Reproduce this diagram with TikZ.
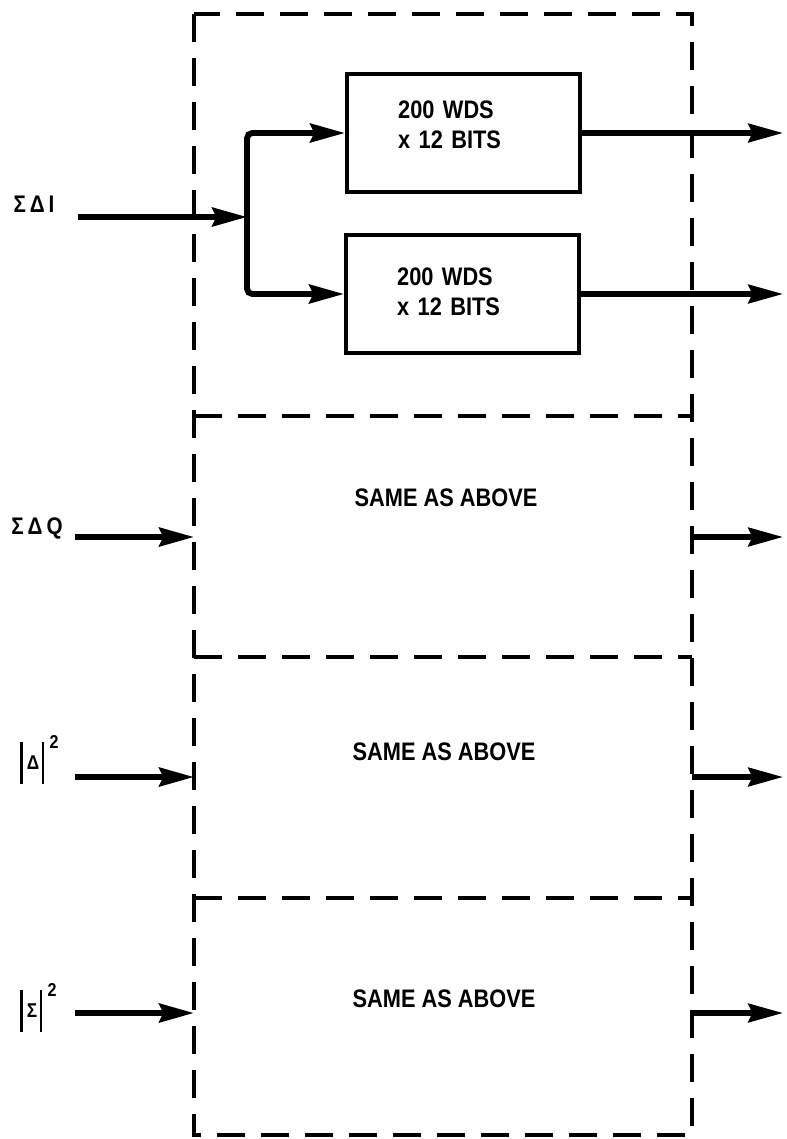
\documentclass[tikz,border=0pt]{standalone}
\usepackage{fontspec}
\setmainfont[FakeStretch=0.86]{Liberation Sans}
\usetikzlibrary{arrows.meta}
\begin{document}
\begin{tikzpicture}[x=0.75pt,y=-0.75pt,
  frame/.style={line width=2.6pt, dash pattern=on 21pt off 12pt},
  memboxst/.style={draw, line width=2.8pt, minimum width=175pt, minimum height=89pt, inner sep=0pt},
  boxtxt/.style={text width=98pt, align=left, font=\bfseries\fontsize{19}{22.5}\selectfont, inner sep=0pt},
  arr/.style={line width=4.4pt, -{Stealth[length=26pt,width=14pt,inset=3pt]}},
  outarr/.style={line width=3.8pt, -{Stealth[length=26pt,width=14pt,inset=3pt]}},
  sig/.style={font=\bfseries\fontsize{18}{20}\selectfont, inner sep=1pt},
  mag/.style={font=\bfseries\fontsize{15}{17}\selectfont, inner sep=0pt, anchor=base west},
  same/.style={font=\bfseries\fontsize{19}{22}\selectfont, inner sep=1pt}
]
\newcommand{\magbar}{\rule[-16pt]{1.9pt}{32pt}}
\useasboundingbox (0,0) rectangle (786,1139);
% outer dashed frame and section dividers
\draw[frame] (194,14) rectangle (692,1135);
\draw[frame] (194,416) -- (692,416);
\draw[frame] (194,657) -- (692,657);
\draw[frame] (194,898) -- (692,898);

% section 1
\node[memboxst] (b1) at (463.5,133) {};
\node[memboxst] (b2) at (462.5,294) {};
\node[boxtxt] (t1) at ([yshift=6pt]b1.center) {200 WDS\\x 12 BITS};
\node[boxtxt] (t2) at ([yshift=2pt]b2.center) {200 WDS\\x 12 BITS};
\node[sig] (l1) at (34,204) {Σ\,Δ\,I};
\coordinate (s1) at (78,217);
\coordinate (sp) at (247,217);
\coordinate (o1a) at (783,133);
\coordinate (o1b) at (783,294);
\draw[arr] (s1) -- (sp);
\draw[arr, rounded corners=4pt] (sp) |- (b1.west);
\draw[arr, rounded corners=4pt] (sp) |- (b2.west);
\draw[outarr] (b1.east) -- (o1a);
\draw[outarr] (b2.east) -- (o1b);

% section 2
\node[same] (s2) at (446,498) {SAME AS ABOVE};
\node[sig] (l2) at (37,528) {Σ\,Δ\,Q};
\coordinate (a2) at (75,537);
\coordinate (i2) at (194,537);
\coordinate (f2) at (692,537);
\coordinate (o2) at (783,537);
\draw[arr] (a2) -- (i2);
\draw[outarr] (f2) -- (o2);

% section 3
\node[same] (s3) at (444,752) {SAME AS ABOVE};
\node[mag] (l3) at (20,763) {\magbar\hspace{3pt}\raisebox{-5pt}{Δ}\hspace{2pt}\magbar\hspace{4pt}\raisebox{11pt}{\fontsize{14}{16}\selectfont 2}};
\coordinate (a3) at (75,777);
\coordinate (i3) at (194,777);
\coordinate (f3) at (692,777);
\coordinate (o3) at (783,777);
\draw[arr] (a3) -- (i3);
\draw[outarr] (f3) -- (o3);

% section 4
\node[same] (s4) at (444,999) {SAME AS ABOVE};
\node[mag] (l4) at (20,1011) {\magbar\hspace{3pt}\raisebox{-5pt}{Σ}\hspace{2pt}\magbar\hspace{4pt}\raisebox{11pt}{\fontsize{14}{16}\selectfont 2}};
\coordinate (a4) at (75,1013);
\coordinate (i4) at (194,1013);
\coordinate (f4) at (692,1013);
\coordinate (o4) at (783,1013);
\draw[arr] (a4) -- (i4);
\draw[outarr] (f4) -- (o4);
\end{tikzpicture}
\end{document}
